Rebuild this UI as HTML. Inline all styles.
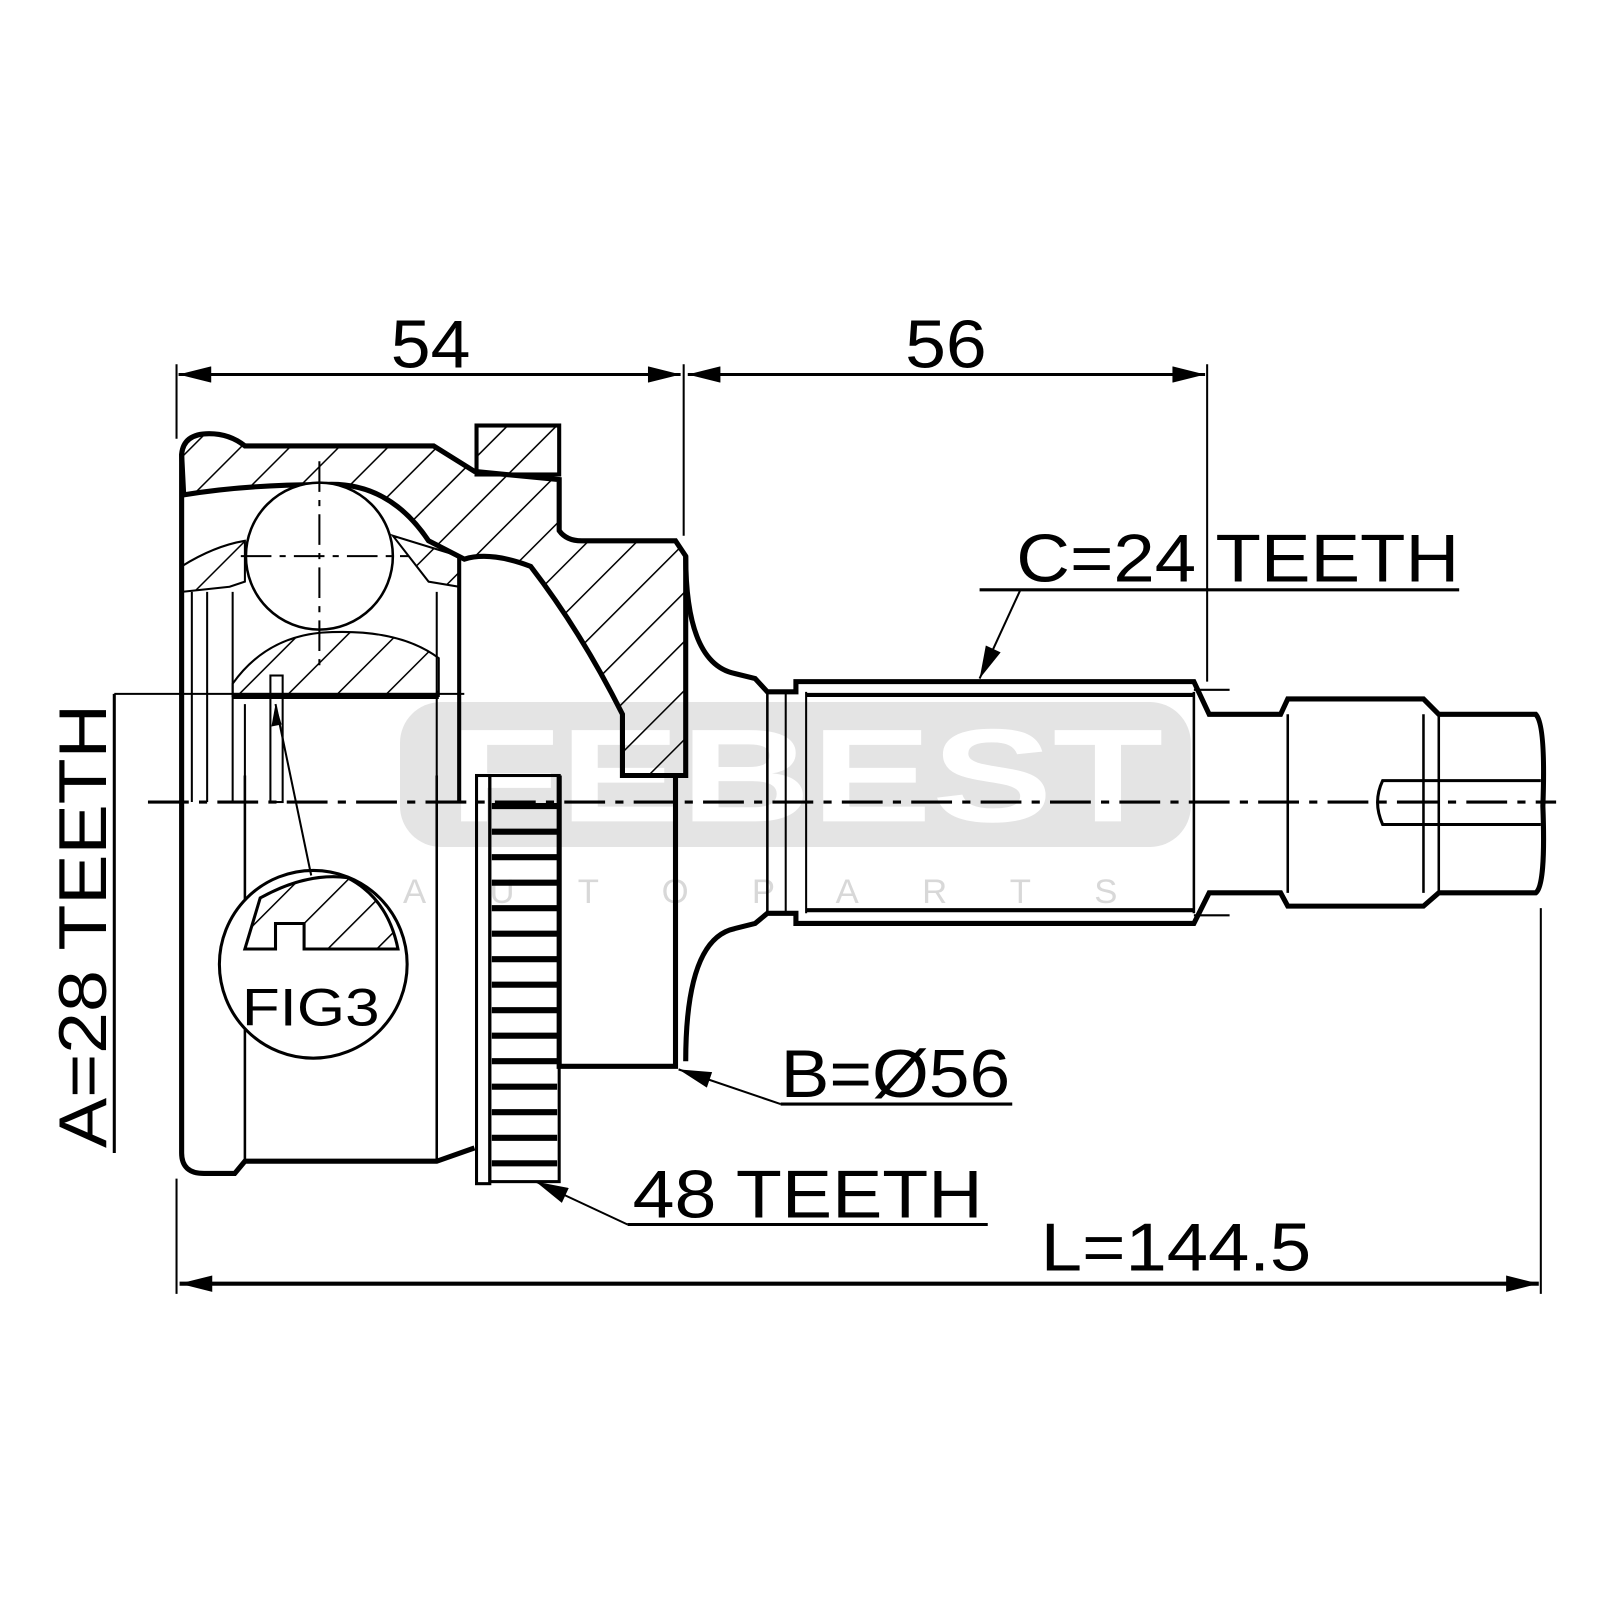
<!DOCTYPE html>
<html><head><meta charset="utf-8"><style>
html,body{margin:0;padding:0;background:#fff}
svg{display:block}
text{font-family:"Liberation Sans",sans-serif;fill:#000}
</style></head><body>
<svg width="1600" height="1600" viewBox="0 0 1568 1568" xmlns="http://www.w3.org/2000/svg">
<defs>
<pattern id="h" width="34" height="34" patternUnits="userSpaceOnUse" patternTransform="rotate(45)">
<line x1="0" y1="0" x2="0" y2="34" stroke="#000" stroke-width="3"/>
</pattern>
<marker id="a" viewBox="0 0 20 10" refX="20" refY="5" markerWidth="44" markerHeight="16" markerUnits="userSpaceOnUse" orient="auto-start-reverse"><path d="M0,0 L20,5 L0,10 Z" fill="#000"/></marker>
</defs>
<!-- watermark -->
<rect x="392" y="688" width="775" height="142" rx="40" fill="#e4e4e4"/>
<text x="440" y="805" font-size="130" font-weight="bold" style="fill:#fff" textLength="700" lengthAdjust="spacingAndGlyphs">FEBEST</text>
<text x="395" y="885" font-size="34" style="fill:#d8d8d8" letter-spacing="62">AUTOPARTS</text>

<g fill="none" stroke="#000" stroke-width="2">
<line x1="173" y1="357" x2="173" y2="430"/>
<line x1="173" y1="1155" x2="173" y2="1268"/>
<line x1="670" y1="357" x2="670" y2="525"/>
<line x1="1183" y1="357" x2="1183" y2="668"/>
<line x1="1510" y1="890" x2="1510" y2="1268"/>
<line x1="175" y1="367" x2="667" y2="367" marker-start="url(#a)" marker-end="url(#a)" stroke-width="3"/>
<line x1="674" y1="367" x2="1181" y2="367" marker-start="url(#a)" marker-end="url(#a)" stroke-width="3"/>
<line x1="176" y1="1258" x2="1508" y2="1258" marker-start="url(#a)" marker-end="url(#a)" stroke-width="4"/>
<line x1="145" y1="786" x2="1525" y2="786" stroke-dasharray="40,10,8,10" stroke-width="3"/>
</g>

<path d="M178,445 Q180,425 205,425 Q225,425 240,437 L425,437 L465,462 L548,470 L548,520 Q555,530 570,530 L662,530 L672,545 L672,760 L610,760 L610,700 Q570,620 520,555 Q480,540 455,548 L420,530 Q380,470 315,475 Q240,475 180,485 Z" fill="url(#h)" stroke="#000" stroke-width="5"/>
<path d="M178,580 L178,555 Q210,535 240,530 L240,570 L225,575 Z" fill="url(#h)" stroke="#000" stroke-width="2"/>
<path d="M385,525 L450,545 L450,575 L420,570 Z" fill="url(#h)" stroke="#000" stroke-width="2"/>
<path d="M228,670 Q260,625 315,620 Q390,615 430,645 L430,682 L228,682 Z" fill="url(#h)" stroke="#000" stroke-width="2"/>
<rect x="467" y="417" width="81" height="48" fill="url(#h)" stroke="#000" stroke-width="4"/>
<circle cx="313" cy="545" r="72" fill="#fff" stroke="#000" stroke-width="2.5"/>
<g stroke="#000" stroke-width="2" fill="none">
<line x1="313" y1="452" x2="313" y2="655" stroke-dasharray="30,8,6,8"/>
<line x1="236" y1="545" x2="400" y2="545" stroke-dasharray="30,8,6,8"/>
</g>

<g fill="none" stroke="#000" stroke-width="5">
<path d="M178,445 L178,1130 Q178,1150 200,1150 L230,1150 L240,1138 L428,1138 L465,1125"/>
<line x1="240" y1="760" x2="240" y2="1138" stroke-width="2.5"/>
<line x1="428" y1="760" x2="428" y2="1138" stroke-width="2.5"/>
<line x1="188" y1="580" x2="188" y2="786" stroke-width="2"/>
<line x1="203" y1="580" x2="203" y2="786" stroke-width="2"/>
<line x1="228" y1="580" x2="228" y2="786" stroke-width="2"/>
<line x1="240" y1="690" x2="240" y2="786" stroke-width="2"/>
<line x1="428" y1="580" x2="428" y2="786" stroke-width="2"/>
<line x1="450" y1="545" x2="450" y2="786" stroke-width="4"/>
<line x1="228" y1="682" x2="430" y2="682" stroke-width="6"/>
<rect x="265" y="662" width="12" height="124" stroke-width="2"/>
<path d="M548,760 L548,1045 L662,1045 L662,760"/>
<path d="M672,545 Q672,650 720,660 L740,665 L752,678 L780,678 L780,668 L1170,668 L1185,700 L1255,700 L1262,685 L1395,685 L1410,700 L1505,700 Q1515,710 1512,790 Q1515,868 1505,875 L1410,875 L1395,888 L1262,888 L1255,875 L1185,875 L1170,905 L780,905 L780,895 L752,895 L740,905 L720,910 Q672,920 672,1040"/>
<line x1="752" y1="678" x2="752" y2="895" stroke-width="2.5"/>
<line x1="770" y1="678" x2="770" y2="895" stroke-width="2"/>
<line x1="790" y1="678" x2="790" y2="895" stroke-width="2"/>
<line x1="1170" y1="678" x2="1170" y2="895" stroke-width="2.5"/>
<line x1="790" y1="681" x2="1170" y2="681" stroke-width="4"/>
<line x1="790" y1="892" x2="1170" y2="892" stroke-width="4"/>
<line x1="1262" y1="700" x2="1262" y2="875" stroke-width="2.5"/>
<line x1="1395" y1="700" x2="1395" y2="875" stroke-width="2.5"/>
<line x1="1410" y1="700" x2="1410" y2="875" stroke-width="2.5"/>
<line x1="1170" y1="676" x2="1205" y2="676" stroke-width="2"/>
<line x1="1170" y1="897" x2="1205" y2="897" stroke-width="2"/>
<path d="M1510,765 L1355,765 Q1345,786 1355,808 L1510,808" stroke-width="3"/>
<rect x="467" y="760" width="13" height="400" stroke-width="3"/>
<rect x="480" y="760" width="68" height="398" stroke-width="3"/>
</g>
<g stroke="#000" stroke-width="6">
<line x1="482" y1="790" x2="546" y2="790"/><line x1="482" y1="815" x2="546" y2="815"/>
<line x1="482" y1="840" x2="546" y2="840"/><line x1="482" y1="865" x2="546" y2="865"/>
<line x1="482" y1="890" x2="546" y2="890"/><line x1="482" y1="915" x2="546" y2="915"/>
<line x1="482" y1="940" x2="546" y2="940"/><line x1="482" y1="965" x2="546" y2="965"/>
<line x1="482" y1="990" x2="546" y2="990"/><line x1="482" y1="1015" x2="546" y2="1015"/>
<line x1="482" y1="1040" x2="546" y2="1040"/><line x1="482" y1="1065" x2="546" y2="1065"/>
<line x1="482" y1="1090" x2="546" y2="1090"/><line x1="482" y1="1115" x2="546" y2="1115"/>
<line x1="482" y1="1140" x2="546" y2="1140"/>
</g>

<circle cx="307" cy="945" r="92" fill="#fff" stroke="#000" stroke-width="3"/>
<path d="M240,930 L270,930 L270,905 L298,905 L298,930 L390,930 Q380,880 340,860 Q300,855 255,880 Z" fill="url(#h)" stroke="#000" stroke-width="3"/>
<text x="237" y="1005" font-size="52" textLength="135" lengthAdjust="spacingAndGlyphs">FIG3</text>
<line x1="270" y1="690" x2="305" y2="858" stroke="#000" stroke-width="2"/>
<path d="M270,690 L266,712 L276,710 Z" fill="#000"/>

<text x="383" y="360" font-size="66" textLength="78" lengthAdjust="spacingAndGlyphs">54</text>
<text x="887" y="360" font-size="66" textLength="80" lengthAdjust="spacingAndGlyphs">56</text>
<text x="996" y="570" font-size="66" textLength="434" lengthAdjust="spacingAndGlyphs">C=24 TEETH</text>
<line x1="960" y1="578" x2="1430" y2="578" stroke="#000" stroke-width="3"/>
<line x1="1000" y1="578" x2="960" y2="665" stroke="#000" stroke-width="2" marker-end="url(#a)"/>
<text x="765" y="1075" font-size="66" textLength="225" lengthAdjust="spacingAndGlyphs">B=Ø56</text>
<line x1="765" y1="1082" x2="992" y2="1082" stroke="#000" stroke-width="3"/>
<line x1="765" y1="1082" x2="665" y2="1048" stroke="#000" stroke-width="2" marker-end="url(#a)"/>
<text x="620" y="1193" font-size="66" textLength="343" lengthAdjust="spacingAndGlyphs">48 TEETH</text>
<line x1="615" y1="1200" x2="968" y2="1200" stroke="#000" stroke-width="3"/>
<line x1="615" y1="1200" x2="525" y2="1158" stroke="#000" stroke-width="2" marker-end="url(#a)"/>
<text x="1020" y="1245" font-size="66" textLength="265" lengthAdjust="spacingAndGlyphs">L=144.5</text>
<text transform="translate(104,1125) rotate(-90)" font-size="66" textLength="435" lengthAdjust="spacingAndGlyphs">A=28 TEETH</text>
<line x1="112" y1="680" x2="112" y2="1130" stroke="#000" stroke-width="3"/>
<line x1="112" y1="680" x2="455" y2="680" stroke="#000" stroke-width="2"/>
</svg>
</body></html>
